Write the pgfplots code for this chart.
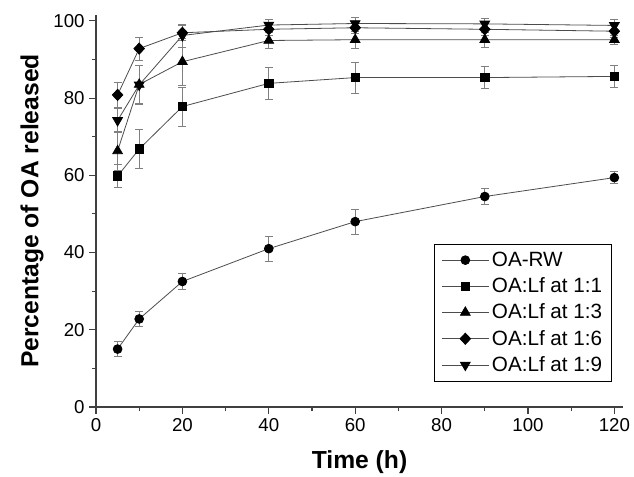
\documentclass[border=0pt]{standalone}
\usepackage{pgfplots}
\pgfplotsset{compat=1.18}
\usepackage{fontspec}
\setmainfont{Liberation Sans}
\begin{document}
\begin{tikzpicture}
\begin{axis}[
  scale only axis,
  width=395.25pt, height=294pt,
  xmin=0, xmax=122, ymin=0, ymax=101.5,
  axis lines*=left,
  hide obscured x ticks=false, hide obscured y ticks=false,
  axis line style={line width=1pt, black!75},
  xtick={0,20,...,120}, ytick={0,20,...,100},
  minor x tick num=1, minor y tick num=1,
  tick align=outside,
  major tick length=5pt, minor tick length=3pt,
  tick style={line width=0.8pt, black!75},
  /pgf/number format/assume math mode=true,
  ticklabel style={font=\fontsize{14}{16}\selectfont},
  xlabel={\textbf{Time (h)}},
  ylabel={\textbf{Percentage of OA released}},
  label style={font=\fontsize{18.5}{20}\selectfont},
  xlabel style={at={(rel axis cs:0.5,0)}, anchor=center, yshift=-41pt},
  ylabel style={at={(rel axis cs:0,0.5)}, anchor=center, yshift=48pt},
  legend style={at={(0.979,0.064)}, anchor=south east, draw=black, line width=0.6pt,
     font=\fontsize{15.5}{17}\selectfont, row sep=3pt, inner xsep=5pt, inner ysep=4pt},
  legend cell align=left,
  legend image code/.code={\draw[mark repeat=2,mark phase=2] plot coordinates {(0cm,0cm) (0.62cm,0cm) (1.24cm,0cm)};},
  error bars/y dir=both, error bars/y explicit,
  error bars/error bar style={gray, line width=0.5pt},
  error bars/error mark options={gray, rotate=90, mark size=3pt, line width=0.5pt},
]
\addplot[black!70, line width=0.6pt, mark=*, mark size=3.3pt, mark options={black, fill=black}] coordinates {
 (5,15) +- (0,2) (10,22.8) +- (0,2) (20,32.5) +- (0,2.1) (40,41) +- (0,3.2)
 (60,48) +- (0,3.2) (90,54.5) +- (0,2) (120,59.4) +- (0,1.5)};
\addlegendentry{OA-RW}
\addplot[black!70, line width=0.6pt, mark=square*, mark size=3.2pt, mark options={black, fill=black}] coordinates {
 (5,59.8) +- (0,3) (10,66.8) +- (0,5) (20,77.8) +- (0,5) (40,83.8) +- (0,4.2)
 (60,85.3) +- (0,4) (90,85.3) +- (0,2.8) (120,85.6) +- (0,2.8)};
\addlegendentry{OA:Lf at 1:1}
\addplot[black!70, line width=0.6pt, mark=triangle*, mark size=4.2pt, mark options={black, fill=black}] coordinates {
 (5,66.3) +- (0,5) (10,83.5) +- (0,5) (20,89.4) +- (0,6) (40,94.9) +- (0,2)
 (60,95.1) +- (0,2.2) (90,95.1) +- (0,2) (120,95.1) +- (0,1.2)};
\addlegendentry{OA:Lf at 1:3}
\addplot[black!70, line width=0.6pt, mark=diamond*, mark size=4.2pt, mark options={black, fill=black, xscale=1.25}] coordinates {
 (5,80.8) +- (0,3.2) (10,92.8) +- (0,3) (20,96.9) +- (0,2) (40,97.8) +- (0,1.5)
 (60,98.2) +- (0,1.5) (90,97.8) +- (0,1.5) (120,97.3) +- (0,1.5)};
\addlegendentry{OA:Lf at 1:6}
\addplot[black!70, line width=0.6pt, mark=triangle*, mark size=4.2pt, mark options={black, fill=black, rotate=180}] coordinates {
 (5,74.2) +- (0,3.2) (10,83.4) +- (0,5) (20,96.2) +- (0,3) (40,98.9) +- (0,1.5)
 (60,99.3) +- (0,1.5) (90,99.2) +- (0,1.5) (120,98.8) +- (0,1.5)};
\addlegendentry{OA:Lf at 1:9}
\coordinate (bl) at (rel axis cs:0,0);
\coordinate (tr) at (rel axis cs:1,1);
\end{axis}
\pgfresetboundingbox
\useasboundingbox ([xshift=-72pt,yshift=-51.75pt]bl) rectangle ([xshift=8.25pt,yshift=11.25pt]tr);
\end{tikzpicture}
\end{document}
